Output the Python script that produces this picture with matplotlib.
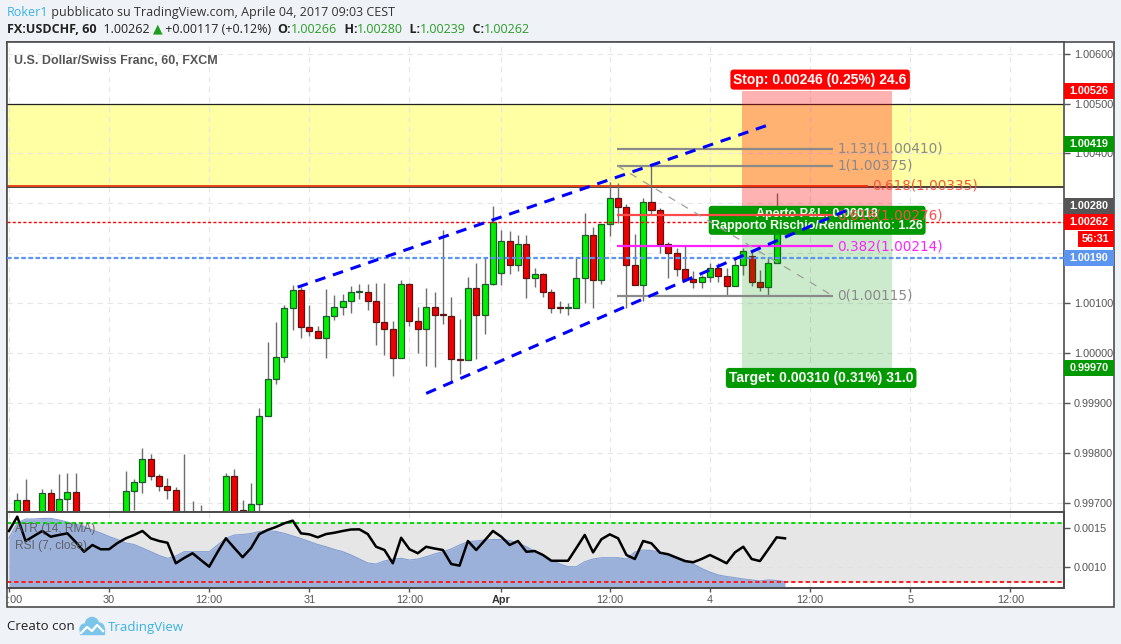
import matplotlib
matplotlib.use("Agg")
import matplotlib.pyplot as plt
import matplotlib.transforms as mtransforms
from matplotlib.patches import Rectangle, Circle
import numpy as np

# USDCHF, 60 min, FXCM - bars from 29 Mar 12:00 to 4 Apr 09:00 (weekend skipped)
opens = [0.99660, 0.99665, 0.99705, 0.99668, 0.99660, 0.99719, 0.99668, 0.99707, 0.99721, 0.99655,
         0.99645, 0.99650, 0.99640, 0.99655, 0.99660, 0.99723, 0.99741, 0.99787, 0.99753, 0.99733,
         0.99725, 0.99660, 0.99640, 0.99650, 0.99645, 0.99655, 0.99660, 0.99753, 0.99685, 0.99670,
         0.99697, 0.99873, 0.99947, 0.99991, 1.00091, 1.00127, 1.00053, 1.00045, 1.00031, 1.00075,
         1.00093, 1.00105, 1.00123, 1.00123, 1.00105, 1.00063, 1.00049, 0.99989, 1.00139, 1.00065,
         1.00049, 1.00093, 1.00078, 1.00075, 0.99988, 0.99985, 1.00131, 1.00077, 1.00139, 1.00161,
         1.00225, 1.00177, 1.00219, 1.00151, 1.00159, 1.00123, 1.00092, 1.00090, 1.00091, 1.00151,
         1.00237, 1.00147, 1.00259, 1.00311, 1.00293, 1.00177, 1.00137, 1.00303, 1.00287, 1.00219,
         1.00201, 1.00169, 1.00149, 1.00143, 1.00153, 1.00171, 1.00155, 1.00135, 1.00177, 1.00195,
         1.00143, 1.00133, 1.00181, 1.00266]
highs = [0.99676, 0.99720, 0.99748, 0.99676, 0.99728, 0.99728, 0.99758, 0.99760, 0.99760, 0.99672,
         0.99670, 0.99675, 0.99668, 0.99676, 0.99764, 0.99748, 0.99810, 0.99798, 0.99757, 0.99749,
         0.99731, 0.99798, 0.99704, 0.99695, 0.99672, 0.99678, 0.99760, 0.99767, 0.99706, 0.99739,
         0.99889, 1.00022, 1.00062, 1.00096, 1.00136, 1.00133, 1.00096, 1.00055, 1.00128, 1.00117,
         1.00119, 1.00134, 1.00139, 1.00138, 1.00141, 1.00140, 1.00064, 1.00146, 1.00140, 1.00092,
         1.00130, 1.00122, 1.00246, 1.00113, 1.00069, 1.00153, 1.00180, 1.00191, 1.00294, 1.00246,
         1.00245, 1.00237, 1.00237, 1.00171, 1.00161, 1.00129, 1.00105, 1.00101, 1.00193, 1.00281,
         1.00253, 1.00259, 1.00343, 1.00341, 1.00299, 1.00239, 1.00311, 1.00375, 1.00290, 1.00223,
         1.00211, 1.00215, 1.00165, 1.00157, 1.00181, 1.00181, 1.00171, 1.00189, 1.00211, 1.00205,
         1.00167, 1.00193, 1.00320, 1.00280]
lows = [0.99640, 0.99655, 0.99655, 0.99640, 0.99650, 0.99650, 0.99660, 0.99670, 0.99640, 0.99630,
        0.99625, 0.99630, 0.99620, 0.99635, 0.99650, 0.99685, 0.99719, 0.99745, 0.99724, 0.99707,
        0.99650, 0.99610, 0.99620, 0.99625, 0.99620, 0.99635, 0.99650, 0.99680, 0.99675, 0.99660,
        0.99680, 0.99873, 0.99937, 0.99981, 1.00046, 1.00031, 1.00035, 1.00031, 0.99989, 1.00067,
        1.00076, 1.00081, 1.00108, 1.00087, 1.00017, 0.99995, 0.99953, 0.99989, 1.00055, 1.00001,
        0.99973, 0.99971, 1.00059, 0.99943, 0.99957, 0.99985, 0.99987, 1.00038, 1.00137, 1.00137,
        1.00159, 1.00165, 1.00111, 1.00133, 1.00113, 1.00081, 1.00081, 1.00077, 1.00091, 1.00101,
        1.00091, 1.00139, 1.00235, 1.00261, 1.00091, 1.00137, 1.00105, 1.00279, 1.00201, 1.00151,
        1.00155, 1.00149, 1.00131, 1.00131, 1.00143, 1.00143, 1.00117, 1.00135, 1.00157, 1.00135,
        1.00125, 1.00117, 1.00181, 1.00239]
closes = [0.99650, 0.99705, 0.99668, 0.99660, 0.99719, 0.99668, 0.99707, 0.99721, 0.99655, 0.99645,
          0.99650, 0.99640, 0.99655, 0.99660, 0.99723, 0.99741, 0.99787, 0.99753, 0.99733, 0.99725,
          0.99660, 0.99640, 0.99650, 0.99645, 0.99655, 0.99660, 0.99753, 0.99684, 0.99683, 0.99697,
          0.99873, 0.99947, 0.99991, 1.00091, 1.00127, 1.00053, 1.00045, 1.00031, 1.00075, 1.00093,
          1.00105, 1.00123, 1.00124, 1.00105, 1.00063, 1.00049, 0.99989, 1.00139, 1.00065, 1.00049,
          1.00093, 1.00077, 1.00076, 0.99987, 0.99986, 1.00131, 1.00077, 1.00139, 1.00263, 1.00225,
          1.00177, 1.00219, 1.00151, 1.00159, 1.00123, 1.00091, 1.00090, 1.00092, 1.00151, 1.00237,
          1.00147, 1.00259, 1.00311, 1.00293, 1.00177, 1.00137, 1.00303, 1.00287, 1.00219, 1.00201,
          1.00169, 1.00149, 1.00143, 1.00153, 1.00171, 1.00155, 1.00135, 1.00177, 1.00205, 1.00143,
          1.00133, 1.00181, 1.00245, 1.00262]

rsi7 = [64.8, 74.5, 58.0, 61.4, 64.8, 60.9, 62.1, 63.2, 57.3, 50.7,
        55.3, 52.4, 52.4, 56.6, 59.8, 62.1, 64.8, 59.8, 58.0, 56.8,
        42.9, 46.5, 49.7, 45.1, 40.6, 50.5, 59.8, 53.3, 47.0, 53.1,
        62.7, 65.5, 67.5, 70.0, 71.8, 63.2, 62.5, 60.5, 62.7, 63.6,
        64.8, 65.8, 65.9, 62.7, 54.1, 51.9, 42.9, 60.2, 52.4, 49.7,
        54.1, 52.9, 51.9, 42.4, 41.3, 58.0, 51.9, 58.3, 64.8, 60.9,
        55.3, 58.0, 50.7, 51.2, 48.5, 44.6, 44.6, 44.6, 53.3, 62.1,
        50.3, 59.2, 62.5, 59.8, 48.5, 45.8, 58.0, 56.4, 50.1, 49.0,
        46.7, 44.4, 43.6, 45.8, 48.5, 45.8, 42.9, 50.3, 54.1, 45.8,
        44.4, 52.4, 60.5, 59.8]
atr14 = [0.001371, 0.001568, 0.001620, 0.001620, 0.001627, 0.001629, 0.001607, 0.001581, 0.001556, 0.001523,
         0.001478, 0.001439, 0.001394, 0.001355, 0.001310, 0.001291, 0.001245, 0.001198, 0.001149, 0.001112,
         0.001142, 0.001198, 0.001198, 0.001198, 0.001198, 0.001284, 0.001371, 0.001413, 0.001420, 0.001433,
         0.001459, 0.001472, 0.001459, 0.001435, 0.001401, 0.001368, 0.001329, 0.001291, 0.001262, 0.001226,
         0.001198, 0.001155, 0.001103, 0.001052, 0.001039, 0.001078, 0.001103, 0.001112, 0.001090, 0.001103,
         0.001133, 0.001168, 0.001198, 0.001233, 0.001284, 0.001327, 0.001336, 0.001349, 0.001355, 0.001355,
         0.001342, 0.001310, 0.001262, 0.001207, 0.001142, 0.001090, 0.001039, 0.001004, 0.001004, 0.001068,
         0.001103, 0.001120, 0.001120, 0.001120, 0.001103, 0.001194, 0.001220, 0.001213, 0.001190, 0.001161,
         0.001129, 0.001090, 0.001039, 0.000981, 0.000935, 0.000897, 0.000877, 0.000862, 0.000845, 0.000832,
         0.000819, 0.000832, 0.000826, 0.000810]

time_ticks = [0, 12, 24, 36, 48, 59, 72, 84, 96, 108, 120]
time_labels = ["12:00", "30", "12:00", "31", "12:00", "Apr", "12:00", "4", "12:00", "5", "12:00"]
price_ticks = [0.997, 0.998, 0.999, 1.000, 1.001, 1.002, 1.003, 1.004, 1.005, 1.006]
hidden_price_labels = [1.002, 1.003]   # covered by the price tags
atr_ticks = [0.0010, 0.0015]

# drawings on the chart
zone_top, zone_bottom = 1.00500, 1.00332
fib_high, fib_low = 1.003754, 1.001148
fib_levels = [1.131, 1, 0.618, 0.382, 0]
fib_colors = ["#8a8a8a", "#8a8a8a", "#ff4a4a", "#ff22ff", "#8a8a8a"]
fib_span = [72.9, 98.7]
fib2_level, fib2_end = 1.00335, 102.8
channel_upper = ([34.6, 90.8], [1.00132, 1.00456])
channel_lower = ([50.0, 100.8], [0.99919, 1.00289])
entry, stop, target = 1.00280, 1.00526, 0.99970
pos_span = [87.9, 105.8]
last_price = 1.00262
blue_level = 1.00190
alert_level = 1.00419

W, H = 1121, 644
BG = "#eff2f6"
SANS = ["Liberation Sans", "DejaVu Sans"]
plt.rcParams["font.family"] = SANS


def fx(px):
    return px / W


def fy(py):
    return 1 - py / H


fig = plt.figure(figsize=(W / 100, H / 100), dpi=100, facecolor=BG)

# background / frame in pixel coordinates
bg = fig.add_axes([0, 0, 1, 1])
bg.set_xlim(0, W)
bg.set_ylim(H, 0)
bg.axis("off")
bg.add_patch(Rectangle((7, 42), 1107, 565, facecolor="white", edgecolor="#4d4d4d", lw=1.2))


def rich(x, y, parts, size, family=("Open Sans", "DejaVu Sans")):
    prev = None
    for s, col, w in parts:
        kw = dict(color=col, fontweight=w, fontsize=size, family=list(family), va="center", ha="left")
        if prev is None:
            prev = bg.text(x, y, s, **kw)
        else:
            prev = bg.annotate(s, xy=(1, 0.5), xycoords=prev, **kw)


GREEN_TXT = "#2a9d2a"
rich(7, 12, [("Roker1", "#3bb3e4", "normal"),
             (" pubblicato su TradingView.com, Aprile 04, 2017 09:03 CEST", "#333333", "normal")], 9)
rich(7, 29, [("FX:USDCHF, 60", "#222222", "bold"), ("  1.00262 ", "#222222", "normal"),
             ("\u25b2", "#1e9e1e", "normal"), (" +0.00117 (+0.12%)  ", "#222222", "normal"),
             ("O:", "#222222", "bold"), ("1.00266", GREEN_TXT, "normal"),
             ("  H:", "#222222", "bold"), ("1.00280", GREEN_TXT, "normal"),
             ("  L:", "#222222", "bold"), ("1.00239", GREEN_TXT, "normal"),
             ("  C:", "#222222", "bold"), ("1.00262", GREEN_TXT, "normal")], 9)

# footer
bg.text(7, 627, "Creato con", fontsize=9.5, color="#222222", va="center", family=["Open Sans", "DejaVu Sans"])
logo = "#7cc5ea"
for cx, cy, r in [(85, 629, 5), (92, 624, 6.5), (99, 628, 5)]:
    bg.add_patch(Circle((cx, cy), r, color=logo))
bg.add_patch(Rectangle((80, 628), 24, 6, color=logo))
bg.plot([81, 87, 92, 97, 103], [633, 627, 631, 625, 631], color="white", lw=1.6)
bg.text(108, 627, "TradingView", fontsize=9.5, color="#3bb3e4", va="center", family=["Open Sans", "DejaVu Sans"])

# ---- main price panel ----
ax = fig.add_axes([fx(7), fy(512), fx(1064) - fx(7), fy(42) - fy(512)])
ax_b = fig.add_axes([fx(7), fy(588), fx(1064) - fx(7), fy(512) - fy(588)], sharex=ax)

t = np.arange(len(opens))
o, h, l, c = (np.array(v) for v in (opens, highs, lows, closes))
up = c >= o
ymin, ymax = 0.996813, 1.006234
ax.set_xlim(-0.23, 126.43)
ax.set_ylim(ymin, ymax)
ax.set_axisbelow(True)

grid_kw = dict(color="#e6e6e6", lw=0.8, linestyle=(0, (5, 4)))
ax.set_xticks(time_ticks)
ax.set_yticks(price_ticks)
ax.set_yticklabels(["" if p in hidden_price_labels else f"{p:.5f}" for p in price_ticks])
ax.grid(True, **grid_kw)
ax.yaxis.tick_right()
ax.tick_params(axis="x", length=0, labelbottom=False)
ax.tick_params(axis="y", length=4, width=1, color="#555555", pad=3, labelsize=7.8, labelcolor="#555555")
for sp in ax.spines.values():
    sp.set_color("#4d4d4d")
    sp.set_linewidth(1.2)

# yellow resistance zone
ax.axhspan(zone_bottom, zone_top, color="#ffffa3", zorder=0.3, lw=0)
ax.axhline(zone_top, color="#222222", lw=0.9, zorder=1)
ax.axhline(zone_bottom, color="#222222", lw=1.2, zorder=1)

# candles
wick = "#6e6e6e"
body_col = np.where(up, "#00f000", "#f00000")
edge_col = np.where(up, "#1f5a2f", "#5c1515")
ax.vlines(t, l, h, color=wick, lw=1, zorder=2)
ax.bar(t, np.maximum(np.abs(c - o), 0.000022), bottom=np.minimum(o, c), width=0.72,
       color=body_col, edgecolor=edge_col, linewidth=0.9, zorder=3)

# horizontal lines
ax.axhline(last_price, color="#ff0000", lw=1.0, linestyle=(0, (2.2, 1.6)), zorder=4)
ax.axhline(blue_level, color="#5b95ef", lw=1.6, linestyle=(0, (2.1, 1.1)), zorder=4)

# position (short) tool
pw = pos_span[1] - pos_span[0]
ax.add_patch(Rectangle((pos_span[0], entry), pw, stop - entry, facecolor=(1, 0, 0, 0.3), lw=0, zorder=3.5))
ax.add_patch(Rectangle((pos_span[0], target), pw, entry - target, facecolor=(0, 0.59, 0, 0.2), lw=0, zorder=3.5))
pos_mid = (pos_span[0] + pos_span[1]) / 2
lab_kw = dict(ha="center", va="center", color="white", fontweight="bold", textcoords="offset pixels",
              zorder=8, family=SANS)
risk = stop - entry
reward = entry - target
ax.annotate(f"Stop: {risk:.5f} ({risk / entry * 100:.2f}%) {risk * 1e4:.1f}", xy=(pos_mid, stop),
            xytext=(3, 11), fontsize=10,
            bbox=dict(boxstyle="round,pad=0.22,rounding_size=0.25", fc="#ff0000", ec="none"), **lab_kw)
ax.annotate(f"Target: {reward:.5f} ({reward / entry * 100:.2f}%) {reward * 1e4:.1f}", xy=(pos_mid, target),
            xytext=(4, -10), fontsize=10,
            bbox=dict(boxstyle="round,pad=0.22,rounding_size=0.25", fc="#009900", ec="none"), **lab_kw)
ax.annotate(f"Aperto P&L: {entry - last_price:.5f}\nRapporto Rischio/Rendimento: {reward / risk:.2f}",
            xy=(pos_mid, entry), xytext=(0, -7), fontsize=9, linespacing=1.0,
            bbox=dict(boxstyle="round,pad=0.2,rounding_size=0.25", fc="#009900", ec="none"), **lab_kw)

# fibonacci retracement
rng = fib_high - fib_low
for lvl, col in zip(fib_levels, fib_colors):
    p = fib_low + lvl * rng
    ax.plot(fib_span, [p, p], color=col, lw=1.6, zorder=9, solid_capstyle="butt")
    ax.text(fib_span[1] + 0.6, p, f"{lvl:g}({p:.5f})", color=col, fontsize=9.8, va="center", ha="left",
            family=["DejaVu Sans"], zorder=9)
ax.plot(fib_span, [fib_high, fib_low], color="#9e9e9e", lw=0.9, linestyle=(0, (6, 6)), zorder=9)

# second fibonacci level under the zone
ax.plot([-0.23, fib2_end], [fib2_level, fib2_level], color="#e8441a", lw=1.4, zorder=1.5)
ax.text(fib2_end + 0.6, fib2_level, "0.618(1.00335)", color="#f4553c", fontsize=9.8, va="center",
        ha="left", family=["DejaVu Sans"], zorder=9)

# trend channel
ax.plot(*channel_upper, color="#0000ff", lw=2.2, dashes=[3.5, 2.6], zorder=9)
ax.plot(*channel_lower, color="#0000ff", lw=2.2, dashes=[3.5, 2.6], zorder=9)

# title
ax.text(7 / 1057, (512 - 61) / 470, "U.S. Dollar/Swiss Franc, 60, FXCM", transform=ax.transAxes,
        fontsize=9, fontweight="bold", color="#555555", va="center", ha="left")

# price tags on the axis
yr = (ymax - ymin) / 470
tag_tr = mtransforms.blended_transform_factory(ax.transAxes, ax.transData)


def tag(price, text, fc, x0=1064, x1=1114, dy=0):
    y = price - dy * yr
    a0, a1 = (x0 - 7) / 1057, (x1 - 7) / 1057
    ax.add_patch(Rectangle((a0, y - 8 * yr), a1 - a0, 16 * yr, transform=tag_tr, facecolor=fc,
                           lw=0, clip_on=False, zorder=10))
    ax.text((a0 + a1) / 2, y, text, transform=tag_tr, ha="center", va="center", color="white",
            fontsize=7.8, fontweight="bold", clip_on=False, zorder=11)


tag(stop, f"{stop:.5f}", "#ff0000")
tag(alert_level, f"{alert_level:.5f}", "#009900")
tag(entry, f"{entry:.5f}", "#555555", dy=-7)
tag(last_price, f"{last_price:.5f}", "#ff0000")
tag(last_price, "56:31", "#ff0000", x0=1078, dy=17)
tag(blue_level, f"{blue_level:.5f}", "#5b95ef")
tag(target, f"{target:.5f}", "#009900")

# ---- indicator panel: ATR (14, RMA) + RSI (7, close) ----
rsi_lim = (26.14, 77.66)
ax_b.set_ylim(*rsi_lim)
ax_b.set_axisbelow(True)
ax_b.axhspan(30, 70, color="#e6e6e6", zorder=0.2, lw=0)
ax_b.set_yticks([])
ax_b.set_xticks(time_ticks)
ax_b.set_xticklabels(time_labels)
ax_b.grid(True, axis="x", **grid_kw)
ax_b.tick_params(axis="x", length=3, width=1, color="#555555", pad=2, labelsize=7.8, labelcolor="#555555")
ax_b.get_xticklabels()[5].set_fontweight("bold")
ax_b.get_xticklabels()[5].set_color("#333333")

ax_atr = ax_b.twinx()
ax_atr.set_ylim(0.0007287, 0.0017106)
ax_atr.axhline(atr_ticks[0], color="#e0e0e0", lw=0.8, linestyle=(0, (5, 4)), zorder=0.5)
ax_atr.fill_between(t, atr14, 0, color="#9bb1da", lw=0, zorder=1)
ax_atr.plot(t, atr14, color="#85a0d4", lw=0.8, zorder=1.1)
ax_atr.set_yticks(atr_ticks)
ax_atr.set_yticklabels([f"{v:.4f}" for v in atr_ticks])
ax_atr.tick_params(axis="y", length=4, width=1, color="#555555", pad=3, labelsize=7.8, labelcolor="#555555")

ax_rsi = ax_b.twinx()
ax_rsi.set_ylim(*rsi_lim)
ax_rsi.set_yticks([])
ax_rsi.axhline(70, color="#00dd00", lw=1.4, dashes=[2.2, 1.5], zorder=2)
ax_rsi.axhline(30, color="#ff1a1a", lw=1.4, dashes=[2.2, 1.5], zorder=2)
ax_rsi.plot(t, rsi7, color="black", lw=1.8, zorder=3)
ax_rsi.text(8 / 1057, (588 - 529) / 76, "ATR (14, RMA)", transform=ax_rsi.transAxes, fontsize=8.6,
            color="#555555", alpha=0.85, va="center")
ax_rsi.text(8 / 1057, (588 - 546) / 76, "RSI (7, close)", transform=ax_rsi.transAxes, fontsize=8.6,
            color="#555555", alpha=0.85, va="center")

for a in (ax_b, ax_atr, ax_rsi):
    for sp in a.spines.values():
        sp.set_color("#4d4d4d")
        sp.set_linewidth(1.2)

# hide the part of the first time label that falls outside the frame
fig.add_artist(Rectangle((0, fy(612)), fx(6.4), fy(589) - fy(612), transform=fig.transFigure,
                         facecolor=BG, lw=0, zorder=5))

fig.savefig("out.png", dpi=100, facecolor=BG)
